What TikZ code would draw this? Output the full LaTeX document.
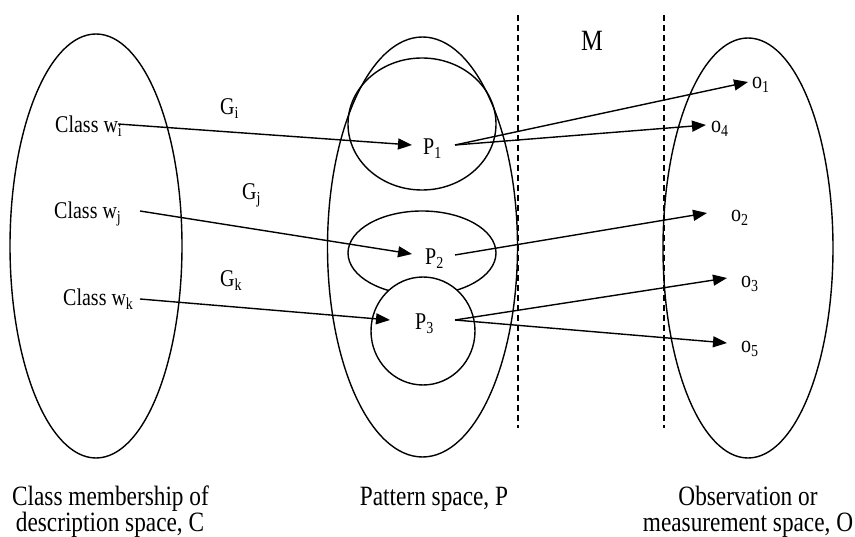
\documentclass[tikz,border=0pt]{standalone}
\usepackage{fontspec}
\setmainfont{Liberation Serif}
\usetikzlibrary{arrows.meta}
\newcommand{\tallt}[1]{\scalebox{1}[1.2]{#1}}
\begin{document}
\begin{tikzpicture}[x=1pt,y=-1pt,
  region/.style={draw, line width=1.4pt},
  lab/.style={font=\fontsize{20}{24}\selectfont, inner sep=0pt, anchor=base west},
  capt/.style={font=\fontsize{23.3}{26}\selectfont, inner sep=0pt, anchor=base},
  conn/.style={line width=1.4pt, -{Triangle[length=14pt,width=11pt]}},
  sepline/.style={line width=1.2pt, dash pattern=on 6pt off 4pt}]
\useasboundingbox (0,0) rectangle (855,537);
% big regions
\draw[region] (96,246) ellipse [x radius=86pt, y radius=212pt];
\draw[region] (422.5,247) ellipse [x radius=95pt, y radius=210pt];
\draw[region] (748,248) ellipse [x radius=85pt, y radius=210pt];
% inner pattern regions
\draw[region] (422,124) ellipse [x radius=74pt, y radius=66pt];
\draw[region] (422,253) ellipse [x radius=74pt, y radius=42pt];
\draw[region, fill=white] (423,331) ellipse [x radius=52pt, y radius=54pt];
% mapping separators
\coordinate (s1t) at (518,15);
\coordinate (s1b) at (518,428);
\coordinate (s2t) at (664,15);
\coordinate (s2b) at (664,428);
\draw[sepline] (s1t) -- (s1b);
\draw[sepline] (s2t) -- (s2b);
\node[font=\fontsize{24.5}{28}\selectfont, inner sep=0pt, anchor=base] (M) at (592,51) {\tallt{M}};
% class labels
\node[lab] (cwi) at (55,133) {\tallt{Class w\textsubscript{i}}};
\node[lab] (cwj) at (54,219) {\tallt{Class w\textsubscript{j}}};
\node[lab] (cwk) at (63,306) {\tallt{Class w\textsubscript{k}}};
\node[lab] (Gi) at (220,115) {\tallt{G\textsubscript{i}}};
\node[lab] (Gj) at (242,200) {\tallt{G\textsubscript{j}}};
\node[lab] (Gk) at (220,287) {\tallt{G\textsubscript{k}}};
% patterns
\node[lab] (P1) at (423,155) {\tallt{P\textsubscript{1}}};
\node[lab] (P2) at (425,265) {\tallt{P\textsubscript{2}}};
\node[lab] (P3) at (415,330) {\tallt{P\textsubscript{3}}};
% observations
\node[lab] (o1) at (752,89) {\tallt{o\textsubscript{1}}};
\node[lab] (o4) at (711,133) {\tallt{o\textsubscript{4}}};
\node[lab] (o2) at (731,222) {\tallt{o\textsubscript{2}}};
\node[lab] (o3) at (741,288) {\tallt{o\textsubscript{3}}};
\node[lab] (o5) at (741,353) {\tallt{o\textsubscript{5}}};
% connector end points
\coordinate (wiS) at (118,124);
\coordinate (wjS) at (140,211);
\coordinate (wkS) at (140,299);
\coordinate (P1in) at (412,145);
\coordinate (P2in) at (412,254);
\coordinate (P3in) at (390,320);
\coordinate (P1out) at (455,145);
\coordinate (P2out) at (455,255);
\coordinate (P3out) at (455,320);
\coordinate (o1in) at (748,82);
\coordinate (o4in) at (706,125);
\coordinate (o2in) at (707,213);
\coordinate (o3in) at (727,278);
\coordinate (o5in) at (727,343);
\draw[conn] (wiS) -- (P1in);
\draw[conn] (wjS) -- (P2in);
\draw[conn] (wkS) -- (P3in);
\draw[conn] (P1out) -- (o1in);
\draw[conn] (P1out) -- (o4in);
\draw[conn] (P2out) -- (o2in);
\draw[conn] (P3out) -- (o3in);
\draw[conn] (P3out) -- (o5in);
% captions
\node[capt] (capC1) at (110.5,505) {\tallt{Class membership of}};
\node[capt] (capC2) at (110,531) {\tallt{description space, C}};
\node[capt] (capP) at (434,505) {\tallt{Pattern space, P}};
\node[capt] (capO1) at (748,505) {\tallt{Observation or}};
\node[capt] (capO2) at (748,531) {\tallt{measurement space, O}};
\end{tikzpicture}
\end{document}
